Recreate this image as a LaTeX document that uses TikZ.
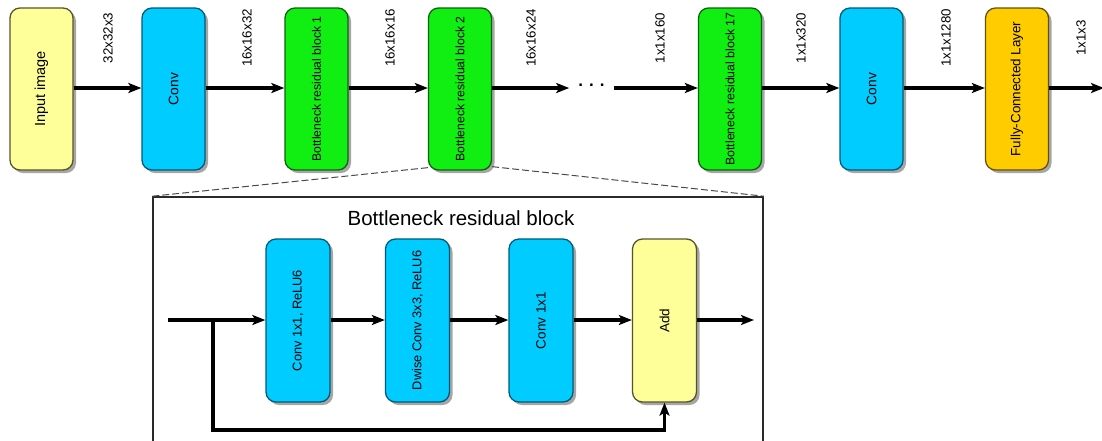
\documentclass[tikz,border=0pt]{standalone}
\usepackage{fontspec}
\setmainfont{Liberation Sans}
\usetikzlibrary{arrows.meta,shadows,calc}
\definecolor{ylwfill}{HTML}{FFFF99}
\definecolor{ylwdraw}{HTML}{55552A}
\definecolor{cyanfill}{HTML}{00CCFF}
\definecolor{cyandraw}{HTML}{005A78}
\definecolor{grnfill}{HTML}{11EE11}
\definecolor{grndraw}{HTML}{126012}
\definecolor{goldfill}{HTML}{FFCC00}
\definecolor{golddraw}{HTML}{665210}
\definecolor{framecol}{HTML}{2A2A2A}
\tikzset{
  blk/.style={rounded corners=10pt, line width=1.3pt, minimum width=63pt, minimum height=162pt,
    inner sep=0pt, drop shadow={shadow xshift=3pt, shadow yshift=-3pt, fill=black, opacity=0.35}},
  iblk/.style={blk, minimum width=64pt, minimum height=163pt},
  yblk/.style={fill=ylwfill, draw=ylwdraw},
  cblk/.style={fill=cyanfill, draw=cyandraw},
  gblk/.style={fill=grnfill, draw=grndraw},
  fblk/.style={fill=goldfill, draw=golddraw},
  arr/.style={line width=3.3pt, -{Stealth[length=13pt,width=10pt,inset=3pt]}},
  lbl/.style={rotate=90, font=\fontsize{13.3}{14}\selectfont, inner sep=0pt},
  tx/.style={rotate=90, font=\fontsize{12.8}{13}\selectfont, inner sep=0pt},
  dsh/.style={draw=framecol!85, line width=1pt, dash pattern=on 7pt off 3pt},
}
\begin{document}
\begin{tikzpicture}[x=1pt,y=-1pt]
\useasboundingbox (0,0) rectangle (1102,440);
\fill[white] (0,0) rectangle (1102,440);
\begin{scope}
\clip (0,0) rectangle (1102,440);
% top row
\node[blk,yblk] (inp) at (41.5,89) {};
\node[tx,font=\fontsize{14.5}{14}\selectfont] (inpt) at (inp) {Input image};
\node[blk,cblk] (c1) at (173.5,89) {};
\node[tx,font=\fontsize{13.8}{13}\selectfont] (c1t) at (c1) {Conv};
\node[blk,gblk] (b1) at (316.5,89) {};
\node[tx,font=\fontsize{12.2}{12}\selectfont] (b1t) at (b1) {Bottleneck residual block 1};
\node[blk,gblk] (b2) at (460,89) {};
\node[tx,font=\fontsize{12.2}{12}\selectfont] (b2t) at (b2) {Bottleneck residual block 2};
\node[blk,gblk] (b17) at (730,89) {};
\node[tx,font=\fontsize{12.3}{12}\selectfont] (b17t) at (b17) {Bottleneck residual block 17};
\node[blk,cblk] (c2) at (871.5,89) {};
\node[tx,font=\fontsize{13.8}{13}\selectfont] (c2t) at (c2) {Conv};
\node[blk,fblk] (fc) at (1017,89) {};
\node[tx,font=\fontsize{13.4}{13}\selectfont] (fct) at (fc) {Fully-Connected Layer};
\node[inner xsep=9pt, inner ysep=0pt, font=\fontsize{17}{17}\selectfont\bfseries] (dots) at (591.5,85) {.\hspace{6pt}.\hspace{6pt}.};
\coordinate (outtop) at (1104,88);

\draw[arr] (inp.east |- 0,88) -- (c1.west |- 0,88);
\draw[arr] (c1.east |- 0,88) -- (b1.west |- 0,88);
\draw[arr] (b1.east |- 0,88) -- (b2.west |- 0,88);
\draw[arr] (b2.east |- 0,88) -- (dots.west |- 0,88);
\draw[arr] (dots.east |- 0,88) -- (b17.west |- 0,88);
\draw[arr] (b17.east |- 0,88) -- (c2.west |- 0,88);
\draw[arr] (c2.east |- 0,88) -- (fc.west |- 0,88);
\draw[arr] (fc.east |- 0,88) -- (outtop);

\node[lbl] (l1) at (108,38) {32x32x3};
\node[lbl] (l2) at (247,38) {16x16x32};
\node[lbl] (l3) at (390,38) {16x16x16};
\node[lbl] (l4) at (531,38) {16x16x24};
\node[lbl] (l5) at (660,38) {1x1x160};
\node[lbl] (l6) at (801,38) {1x1x320};
\node[lbl] (l7) at (946,38) {1x1x1280};
\node[lbl] (l8) at (1081,38) {1x1x3};

% inset frame
\node[draw=framecol, line width=1.6pt, minimum width=610pt, minimum height=270pt, inner sep=0pt] (inset) at (458,332) {};
\draw[dsh] ($(b2.south west)+(0,-3)$) -- (inset.north west);
\draw[dsh] ($(b2.south east)+(0,-4)$) -- (inset.north east);
\node[font=\fontsize{20.5}{21}\selectfont, inner sep=0pt] (title) at (461,218) {Bottleneck residual block};

\node[iblk,cblk] (k1) at (298,320.5) {};
\node[tx] (k1t) at (k1) {Conv 1x1, ReLU6};
\node[iblk,cblk] (k2) at (417.5,320.5) {};
\node[tx] (k2t) at (k2) {Dwise Conv 3x3, ReLU6};
\node[iblk,cblk] (k3) at (541,320.5) {};
\node[tx,font=\fontsize{13.5}{13}\selectfont] (k3t) at (k3) {Conv 1x1};
\node[iblk,yblk] (add) at (664.5,320.5) {};
\node[tx,font=\fontsize{13.5}{13}\selectfont] (addt) at (add) {Add};

\coordinate (in) at (168,320);
\coordinate (br) at (213,320);
\coordinate (fb) at (213,430);
\coordinate (out) at (754,320);
\draw[arr] (in) -- (k1.west |- in);
\draw[arr] (k1.east |- in) -- (k2.west |- in);
\draw[arr] (k2.east |- in) -- (k3.west |- in);
\draw[arr] (k3.east |- in) -- (add.west |- in);
\draw[arr] (add.east |- in) -- (out);
\draw[arr, rounded corners=0pt] (br) -- (fb) -| (add.south);
\end{scope}
\end{tikzpicture}
\end{document}
